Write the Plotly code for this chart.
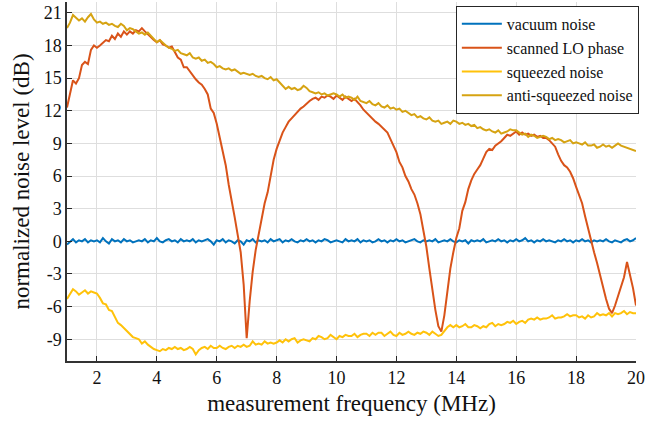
import numpy as np
import plotly.graph_objects as go

# measurement frequency grid (MHz), 0.1 MHz steps from 1 to 20
freq = np.round(np.arange(1.0, 20.0001, 0.1), 1)

vacuum_noise = [
    -0.3, 0.0, 0.2, -0.1, 0.1, 0.0, 0.2, -0.1, 0.1, 0.0,
    0.1, -0.1, 0.3, 0.0, -0.2, 0.2, 0.0, 0.1, -0.1, 0.2,
    0.0, 0.1, -0.1, 0.0, 0.1, 0.0, 0.2, -0.1, 0.1, 0.0,
    0.3, 0.0, -0.1, 0.1, 0.2, 0.0, 0.1, -0.1, 0.2, 0.0,
    0.1, 0.0, 0.2, -0.1, 0.1, 0.0, 0.1, 0.2, 0.0, -0.3,
    0.1, 0.0, 0.2, -0.1, 0.1, 0.0, -0.2, 0.1, 0.0, -0.3,
    0.1, 0.0, 0.2, -0.1, 0.1, 0.0, 0.1, -0.1, 0.2, 0.0,
    0.1, 0.2, -0.1, 0.1, 0.0, 0.2, 0.0, -0.1, 0.1, 0.0,
    0.2, 0.0, 0.1, -0.1, 0.1, 0.0, 0.2, 0.1, -0.1, 0.0,
    0.1, 0.0, -0.1, 0.2, 0.0, 0.1, 0.0, 0.2, -0.1, 0.1,
    0.0, 0.1, -0.1, 0.0, 0.2, 0.0, 0.1, -0.1, 0.1, 0.0,
    0.2, 0.0, 0.1, -0.1, 0.0, 0.1, 0.2, 0.0, -0.1, 0.1,
    0.0, 0.1, 0.0, 0.2, -0.1, 0.0, 0.1, 0.0, 0.2, 0.0,
    -0.1, 0.1, 0.0, 0.1, -0.2, 0.1, 0.0, 0.1, 0.0, 0.2,
    -0.1, 0.0, 0.1, 0.0, 0.2, 0.0, 0.1, -0.1, 0.1, 0.0,
    0.2, 0.0, 0.1, 0.3, 0.0, 0.1, -0.1, 0.1, 0.0, 0.2,
    0.0, 0.1, 0.0, -0.1, 0.1, 0.0, 0.2, 0.0, 0.1, -0.1,
    0.1, 0.0, 0.2, 0.0, 0.1, -0.1, 0.1, 0.0, 0.1, 0.0,
    0.2, 0.0, -0.1, 0.1, 0.0, -0.1, 0.1, 0.2, 0.0, 0.1,
    0.3,
]

scanned_lo_phase = [
    12.3, 13.5, 14.8, 14.5, 15.0, 16.2, 16.5, 16.3, 17.6, 18.0,
    17.8, 18.0, 18.3, 18.5, 18.4, 18.9, 18.6, 19.1, 18.8, 19.3,
    19.0, 19.3, 19.1, 19.4, 19.3, 19.6, 19.3, 19.0, 18.8, 18.5,
    18.3, 18.5, 18.1, 18.0, 17.8, 17.9, 17.4, 16.9, 16.7, 16.0,
    16.0, 15.6, 15.3, 14.9, 14.6, 14.4, 14.0, 13.5, 12.2, 11.8,
    10.8, 9.6, 8.5, 7.0, 5.2, 3.8, 2.2, 0.6, -1.0, -4.0,
    -8.9, -5.5, -2.8, -0.8, 0.6, 2.2, 3.5, 4.5, 6.0, 7.5,
    8.5, 9.2, 10.0, 10.5, 11.0, 11.3, 11.6, 12.0, 12.2, 12.4,
    12.7, 12.9, 13.1, 13.2, 13.0, 13.3, 13.2, 13.4, 13.3, 13.1,
    13.4, 13.2, 13.0, 13.3, 13.1, 12.9, 13.1, 12.8, 12.5, 12.1,
    11.8, 11.5, 11.2, 11.0, 10.8, 10.5, 10.3, 10.0, 9.4, 8.8,
    8.2, 7.3, 6.8, 6.0, 5.5, 4.8, 4.3, 3.5, 2.5, 1.0,
    -0.5, -2.5, -4.5, -6.3, -7.8, -8.3, -6.8, -4.5, -2.5, -1.0,
    0.3, 1.2, 2.8, 3.6, 4.8, 5.6, 6.2, 6.6, 7.0, 7.6,
    8.2, 8.5, 8.4, 8.8, 9.0, 9.2, 9.5, 9.8, 9.7, 9.9,
    10.1, 9.8, 10.0, 9.8, 9.9, 9.7, 9.8, 9.6, 9.7, 9.5,
    9.5, 9.3, 9.0, 8.7, 8.0, 7.4, 7.0, 6.8, 6.4, 5.8,
    5.0, 4.2, 3.5, 2.3, 1.1, 0.1, -1.0, -2.0, -3.2, -4.3,
    -5.3, -6.2, -6.6, -5.9, -5.0, -4.0, -3.3, -1.9, -3.0, -4.3,
    -5.9,
]

squeezed_noise = [
    -5.3, -4.9, -4.4, -4.6, -4.9, -4.7, -4.5, -4.8, -4.6, -4.7,
    -4.8, -5.2, -5.7, -5.8, -6.3, -6.4, -7.0, -7.5, -7.7, -8.0,
    -8.2, -8.5, -8.8, -8.9, -9.0, -9.4, -9.2, -9.5, -9.7, -9.9,
    -10.0, -10.1, -9.9, -10.0, -9.8, -9.9, -9.7, -9.9, -9.8, -10.0,
    -9.9, -9.7, -9.9, -10.4, -10.0, -9.8, -9.7, -9.9, -9.6, -9.8,
    -9.8, -9.6, -9.8, -9.9, -9.7, -9.6, -9.8, -9.6, -9.7, -9.5,
    -9.7, -9.6, -9.2, -9.5, -9.4, -9.5, -9.2, -9.4, -9.3, -9.4,
    -9.3, -9.1, -9.3, -9.0, -9.2, -9.0, -8.9, -9.3, -9.1, -9.0,
    -9.1, -9.2, -8.9, -9.0, -8.7, -8.8, -9.0, -8.9, -8.6, -8.8,
    -9.0, -8.7, -8.8, -8.6, -8.7, -8.7, -8.5, -8.8, -8.6, -8.5,
    -8.5, -8.7, -8.4, -8.6, -8.4, -8.4, -8.7, -8.5, -8.3, -8.6,
    -8.7, -8.4, -8.6, -8.5, -8.3, -8.5, -8.6, -8.4, -8.5, -8.3,
    -8.4, -8.6, -8.3, -8.5, -8.7, -8.6, -8.2, -7.9, -7.7, -7.9,
    -7.7, -7.9, -7.8, -7.6, -7.9, -7.9, -7.7, -7.8, -8.0, -7.8,
    -7.9, -7.6, -7.5, -7.8, -7.6, -7.7, -7.6, -7.4, -7.5, -7.3,
    -7.6, -7.4, -7.3, -7.5, -7.2, -7.1, -7.2, -7.0, -7.2, -7.1,
    -7.1, -7.0, -6.8, -7.1, -7.0, -7.0, -6.9, -6.7, -6.9, -6.8,
    -6.8, -7.0, -6.9, -7.1, -6.8, -7.0, -6.9, -6.6, -6.8, -6.7,
    -6.8, -6.6, -6.9, -6.6, -6.7, -6.6, -6.4, -6.7, -6.5, -6.6,
    -6.6,
]

anti_squeezed_noise = [
    19.6, 20.1, 20.8, 20.5, 20.3, 20.5, 20.2, 20.6, 20.9, 20.4,
    20.1, 20.2, 20.0, 20.1, 19.9, 20.0, 19.8, 19.7, 20.0, 19.8,
    19.4, 19.6, 19.5, 19.3, 19.1, 19.2, 19.0, 19.2, 18.9, 18.6,
    18.3, 18.5, 18.2, 18.0, 17.8, 17.7, 17.5, 17.6, 17.3, 17.2,
    17.1, 17.3, 16.9, 16.8, 16.9, 16.6, 16.7, 16.4, 16.5, 16.3,
    16.0, 16.1, 15.9, 15.8, 15.9, 15.7, 15.8, 15.6, 15.4, 15.5,
    15.4, 15.3, 15.4, 15.2, 15.1, 15.2, 15.0, 14.9, 15.1, 14.8,
    14.9, 14.6, 14.3, 14.0, 14.2, 14.0, 14.1, 13.9, 14.0, 14.3,
    14.1, 13.8, 13.7, 13.6, 13.7, 13.5, 13.6, 13.4, 13.5, 13.6,
    13.5, 13.3, 13.5, 13.2, 13.3, 13.2, 13.0, 13.3, 12.9, 12.8,
    12.7, 12.9, 12.6, 12.5, 12.7, 12.4, 12.3, 12.5, 12.2, 12.3,
    12.1, 12.2, 11.9, 12.0, 11.8, 11.6, 11.7, 11.4, 11.5, 11.3,
    11.2, 11.4, 11.1, 11.0, 11.1, 10.8, 10.9, 11.0, 10.8, 11.1,
    11.0, 10.8, 10.9, 10.7, 10.8, 10.6, 10.7, 10.4, 10.5, 10.3,
    10.2, 10.3, 10.1, 10.0, 10.2, 9.9, 10.0, 10.1, 10.3, 10.2,
    10.2, 10.0, 9.8, 9.9, 9.6, 9.8, 9.7, 9.5, 9.6, 9.7,
    9.6, 9.4, 9.5, 9.3, 9.4, 9.3, 9.1, 9.2, 9.3, 9.0,
    9.1, 9.0, 8.9, 9.1, 8.8, 8.8, 8.9, 8.6, 8.7, 8.9,
    8.7, 8.8, 8.6, 8.8, 9.0, 8.8, 8.7, 8.6, 8.5, 8.4,
    8.3,
]

series_names = ["vacuum noise", "scanned LO phase", "squeezed noise", "anti-squeezed noise"]
series_colors = ["#0072BD", "#D95319", "#FFC20A", "#D6A312"]

x_tickvals = [2, 4, 6, 8, 10, 12, 14, 16, 18, 20]
x_ticktext = ["2", "4", "6", "8", "10", "12", "14", "16", "18", "20"]
y_tickvals = [-9, -6, -3, 0, 3, 6, 9, 12, 15, 18, 21]
y_ticktext = ["-9", "-6", "-3", "0", "3", "6", "9", "12", "15", "18", "21"]

FONT = "Liberation Serif"

fig = go.Figure()
for name, vals, col in zip(series_names,
                           [vacuum_noise, scanned_lo_phase, squeezed_noise, anti_squeezed_noise],
                           series_colors):
    fig.add_trace(go.Scatter(x=freq, y=vals, mode="lines", name=name,
                             line=dict(color=col, width=2)))

axis_common = dict(
    showgrid=True, gridcolor="#dedede", gridwidth=1,
    showline=True, linecolor="#333333", linewidth=1.5,
    ticks="inside", ticklen=5, tickcolor="#262626", tickwidth=1,
    zeroline=False, mirror=False,
    tickfont=dict(family=FONT, size=18, color="#111"),
)

fig.update_layout(
    width=647, height=424,
    margin=dict(l=67, r=9, t=2, b=63),
    paper_bgcolor="white", plot_bgcolor="white",
    font=dict(family=FONT, color="#111"),
    xaxis=dict(range=[1, 20], tickvals=x_tickvals, ticktext=x_ticktext,
               title=dict(text="measurement frequency (MHz)", font=dict(family=FONT, size=23), standoff=8),
               **axis_common),
    yaxis=dict(range=[-11, 22], tickvals=y_tickvals, ticktext=y_ticktext,
               title=dict(text="normalized noise level (dB)", font=dict(family=FONT, size=23), standoff=8),
               **axis_common),
    legend=dict(x=1.005, y=0.989, xanchor="right", yanchor="top",
                bgcolor="white", bordercolor="#262626", borderwidth=1,
                font=dict(family=FONT, size=16, color="#111"),
                tracegroupgap=0, itemwidth=40),
    showlegend=True,
)

fig.write_html("out.html", config={"displayModeBar": False},
               post_script="document.body.style.margin='0px';")
